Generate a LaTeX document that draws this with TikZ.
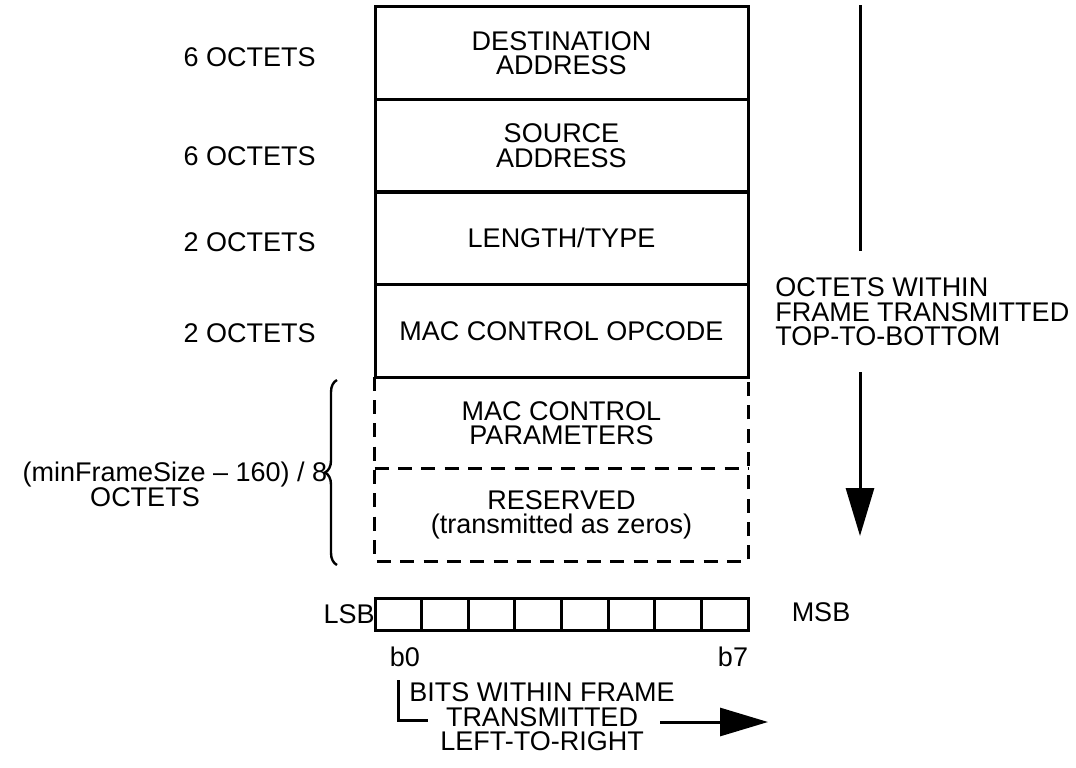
\documentclass[tikz,border=0pt]{standalone}
\usepackage{fontspec}
\setmainfont{Liberation Sans}
\usetikzlibrary{arrows.meta,decorations.pathreplacing}
\begin{document}
\begin{tikzpicture}[x=0.75pt,y=-0.75pt,
  every node/.style={font=\fontsize{20.25}{18.4}\selectfont, inner sep=0pt},
  field/.style={draw, line width=2.25pt, minimum width=279.75pt, minimum height=69.4pt, align=center},
  dfield/.style={minimum width=279.75pt, minimum height=69pt, align=center},
  dline/.style={line width=2.25pt, dash pattern=on 10.5pt off 7pt},
  bitcell/.style={draw, line width=2.25pt, minimum width=34.97pt, minimum height=24pt},
  thick line/.style={line width=2.25pt},
  bigtip/.style={-{Triangle[length=36pt,width=21pt]}, line width=2.25pt},
  lbl/.style={anchor=east}
]
\useasboundingbox (0,0) rectangle (1076,768);

% dashed fields
\node[dfield] (par) at (561.5,423) {MAC CONTROL\\PARAMETERS};
\node[dfield] (res) at (561.5,515) {RESERVED\\(transmitted as zeros)};
\draw[dline] (par.north west) -- (res.south west) -- (res.south east) -- (par.north east);
\draw[dline] (res.north west) -- (res.north east);

% solid fields
\node[field] (da) at (561.5,53.25) {DESTINATION\\ADDRESS};
\node[field] (sa) at (561.5,145.75) {SOURCE\\ADDRESS};
\node[field] (lt) at (561.5,238.25) {LENGTH/TYPE};
\node[field] (op) at (561.5,330.75) {MAC CONTROL OPCODE};

% left labels
\node[lbl] (l1) at (316,57) {6 OCTETS};
\node[lbl] (l2) at (316,156) {6 OCTETS};
\node[lbl] (l3) at (316,242) {2 OCTETS};
\node[lbl] (l4) at (316,333) {2 OCTETS};

% brace
\draw[line width=1.8pt, decorate, decoration={brace, amplitude=9pt, aspect=0.5}] (337,565) -- (337,380);
\node (bl1) at (175,475) {(minFrameSize – 160) / 8};
\node (bl2) at (145,497) {OCTETS};

% right arrow and text
\node[anchor=west, align=left] (ot) at (775,312) {OCTETS WITHIN\\FRAME TRANSMITTED\\TOP-TO-BOTTOM};
\coordinate (va) at (860,5);
\coordinate (vb) at (860,251);
\coordinate (vc) at (860,372);
\coordinate (vd) at (860,536);
\draw[thick line] (va) -- (vb);
\draw[bigtip] (vc) -- (vd);

% bit cells
\foreach \i in {0,...,7} {
  \node[bitcell] (c\i) at ({375+46.625*(\i+0.5)},614) {};
}
\node[anchor=east] (lsb) at (375,614) {LSB};
\node (msb) at (821,612) {MSB};
\node (b0) at (405,657) {b0};
\node (b7) at (733,657) {b7};

% bottom arrow
\node[align=center] (bt) at (542,717) {BITS WITHIN FRAME\\TRANSMITTED\\LEFT-TO-RIGHT};
\coordinate (la) at (398,680);
\coordinate (lb) at (398,720);
\coordinate (lc) at (428,720);
\draw[thick line] (la) -- (lb) -- (lc);
\coordinate (ha) at (660,722);
\coordinate (hb) at (768,722);
\draw[bigtip] (ha) -- (hb);
\end{tikzpicture}
\end{document}
